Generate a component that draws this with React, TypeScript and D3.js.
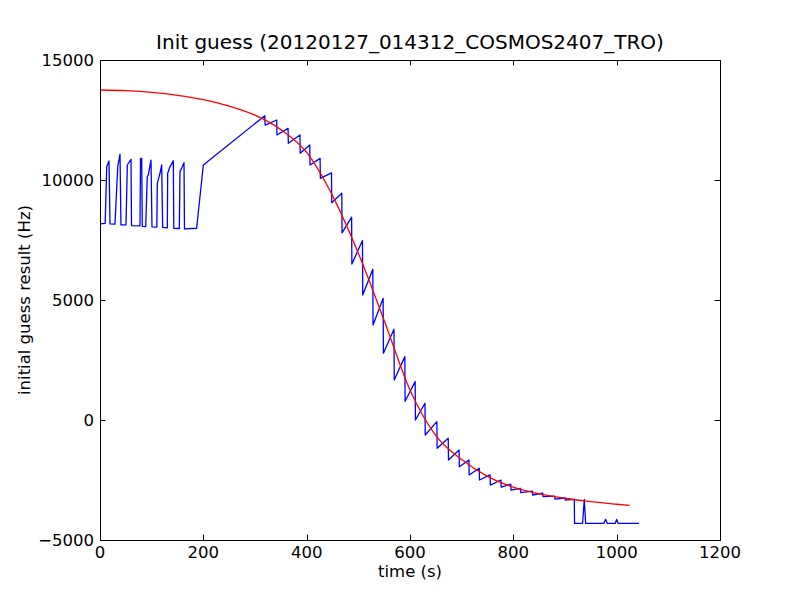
import React, { useEffect, useRef } from 'react';
import * as d3 from 'd3';

// blue: per-chunk initial guess (time s, Hz)
const blueTime = [
  0, 10, 13, 16, 17.4, 19.4, 29, 34.3, 38.7, 40.6, 50.3, 52.9, 60, 61, 77.4, 78.4, 80.7, 81.9,
  88.5, 91.5, 93.5, 98.7, 100.6, 110, 110.9, 116.1, 119.4, 121.3, 130.3, 131, 135.5, 141.9, 142.8,
  153.5, 154.8, 159.3, 162.6, 163.5, 187, 200,
  319, 319.5, 342, 342.5, 364, 364.5, 387, 387.5, 406, 406.5, 426, 426.5, 448, 448.5, 468, 468.5,
  487, 487.5, 508, 508.5, 528, 528.5, 548, 548.5, 569, 569.5, 590, 590.5, 610, 610.5, 629, 629.5,
  652, 652.5, 674, 674.5, 695, 695.5, 714, 714.5, 734, 734.5, 755, 755.5, 776, 776.5, 795, 795.5,
  814, 814.5, 837, 837.5, 857, 857.5, 880, 880.5, 900, 900.5,
  918, 918.5, 934, 937.3, 940, 975, 978.7, 982, 997, 1000, 1003, 1043,
];
const blueValue = [
  8170, 8190, 10550, 10720, 10790, 8170, 8160, 10555, 11080, 8130, 8130, 10625, 10860, 8100, 8090, 10900, 10900, 8070,
  8060, 10140, 10210, 10830, 8050, 8040, 9860, 10280, 10625, 8030, 8010, 10280, 10555, 10800, 7990,
  7980, 10350, 10555, 10720, 7960, 7990, 10625,
  12680, 12290, 12500, 11875, 12150, 11530, 11875, 11110, 11460, 10625, 10900, 10070, 10300, 9050, 9450, 7800,
  8450, 6500, 7480, 5208, 6280, 3960, 5070, 2780, 3780, 1667, 2640, 780, 1600, 0, 700, -625,
  -70, -1180, -760, -1667, -1250, -1945, -1667, -2290, -2010, -2500, -2290, -2710, -2500, -2800, -2670, -2920,
  -2850, -3030, -2960, -3125, -3050, -3190, -3170, -3300, -3250, -3340,
  -3310, -4310, -4310, -3310, -4310, -4310, -4140, -4310, -4310, -4140, -4310, -4310,
];

// red: fitted curve, read at 50 s steps
const redTime = [0, 50, 100, 150, 200, 250, 300, 350, 400, 450, 500, 550, 600, 650, 700, 750, 800, 850, 900, 950, 1000, 1025];
const redValue = [
  13750, 13720, 13650, 13530, 13350, 13080, 12700, 12100, 11150, 9350, 6950, 4150, 1250, -650, -1650, -2350,
  -2800, -3080, -3260, -3400, -3510, -3560,
];

const xTicks = [0, 200, 400, 600, 800, 1000, 1200];
const xTickLabels = ['0', '200', '400', '600', '800', '1000', '1200'];
const yTicks = [-5000, 0, 5000, 10000, 15000];
const yTickLabels = ['\u22125000', '0', '5000', '10000', '15000'];

const title = 'Init guess (20120127_014312_COSMOS2407_TRO)';
const xLabel = 'time (s)';
const yLabel = 'initial guess result (Hz)';

const App = () => {
  const ref = useRef<SVGSVGElement>(null);

  useEffect(() => {
    const svg = d3.select(ref.current);
    svg.selectAll('*').remove();

    const left = 100, right = 720, top = 60, bottom = 540;
    const font = '"DejaVu Sans", sans-serif';

    const x = d3.scaleLinear().domain([0, 1200]).range([left, right]);
    const y = d3.scaleLinear().domain([-5000, 15000]).range([bottom, top]);

    svg.append('rect').attr('width', 800).attr('height', 600).attr('fill', '#ffffff');
    svg.append('rect')
      .attr('x', left).attr('y', top)
      .attr('width', right - left).attr('height', bottom - top)
      .attr('fill', '#ffffff');

    const clip = svg.append('defs').append('clipPath').attr('id', 'plotclip');
    clip.append('rect').attr('x', left).attr('y', top).attr('width', right - left).attr('height', bottom - top);

    const blue = blueTime.map((t, i) => [t, blueValue[i]] as [number, number]);
    const red = redTime.map((t, i) => [t, redValue[i]] as [number, number]);

    const line = d3.line<[number, number]>().x(d => x(d[0])).y(d => y(d[1]));
    const smooth = d3.line<[number, number]>().x(d => x(d[0])).y(d => y(d[1])).curve(d3.curveMonotoneX);

    const g = svg.append('g').attr('clip-path', 'url(#plotclip)');
    g.append('path').datum(blue)
      .attr('d', line).attr('fill', 'none').attr('stroke', '#0000ff')
      .attr('stroke-width', 1.3).attr('stroke-linejoin', 'round');
    g.append('path').datum(red)
      .attr('d', smooth).attr('fill', 'none').attr('stroke', '#ff0000')
      .attr('stroke-width', 1.3);

    const tickLen = 5.5;
    const axes = svg.append('g').attr('stroke', '#000000').attr('stroke-width', 1);
    xTicks.forEach(t => {
      const px = Math.round(x(t)) + 0.5;
      axes.append('line').attr('x1', px).attr('x2', px).attr('y1', bottom).attr('y2', bottom - tickLen);
      axes.append('line').attr('x1', px).attr('x2', px).attr('y1', top).attr('y2', top + tickLen);
    });
    yTicks.forEach(t => {
      const py = Math.round(y(t)) + 0.5;
      axes.append('line').attr('x1', left).attr('x2', left + tickLen).attr('y1', py).attr('y2', py);
      axes.append('line').attr('x1', right).attr('x2', right - tickLen).attr('y1', py).attr('y2', py);
    });
    svg.append('rect')
      .attr('x', left + 0.5).attr('y', top + 0.5)
      .attr('width', right - left).attr('height', bottom - top)
      .attr('fill', 'none').attr('stroke', '#000000').attr('stroke-width', 1);

    const labels = svg.append('g').attr('font-family', font).attr('fill', '#000000');
    xTicks.forEach((t, i) => {
      labels.append('text')
        .attr('x', x(t)).attr('y', 558)
        .attr('text-anchor', 'middle').attr('font-size', 16.5)
        .text(xTickLabels[i]);
    });
    yTicks.forEach((t, i) => {
      labels.append('text')
        .attr('x', 94).attr('y', y(t) + 6)
        .attr('text-anchor', 'end').attr('font-size', 16.5)
        .text(yTickLabels[i]);
    });

    labels.append('text')
      .attr('x', (left + right) / 2).attr('y', 577)
      .attr('text-anchor', 'middle').attr('font-size', 16.5)
      .text(xLabel);
    labels.append('text')
      .attr('transform', `translate(30, ${(top + bottom) / 2}) rotate(-90)`)
      .attr('text-anchor', 'middle').attr('font-size', 16.5)
      .text(yLabel);
    labels.append('text')
      .attr('x', (left + right) / 2).attr('y', 49)
      .attr('text-anchor', 'middle').attr('font-size', 20)
      .text(title);
  }, []);

  return (
    <svg
      ref={ref}
      width={800}
      height={600}
      style={{ position: 'absolute', left: 0, top: 0, display: 'block' }}
    />
  );
};

export default App;
